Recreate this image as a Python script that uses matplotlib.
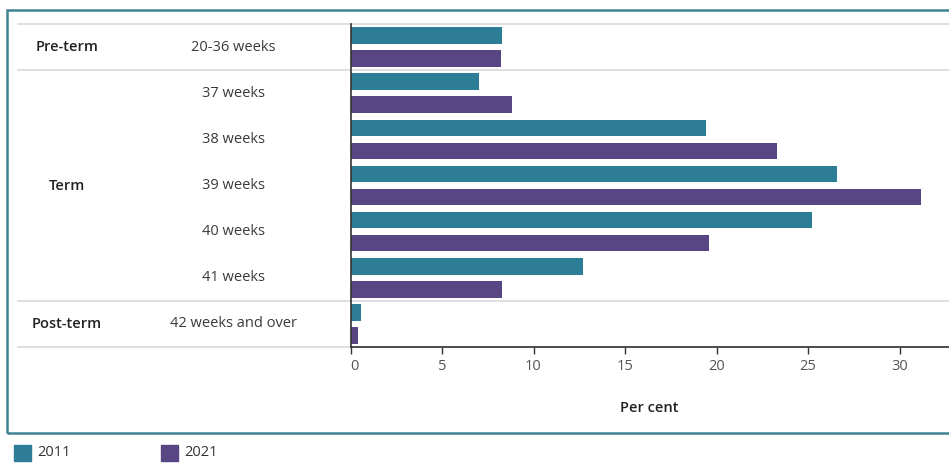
import matplotlib
matplotlib.use("Agg")
import matplotlib.pyplot as plt
import matplotlib.transforms as mtransforms
from matplotlib.lines import Line2D
from matplotlib.patches import Rectangle
import numpy as np

# ---- data ----
categories = ["20-36 weeks", "37 weeks", "38 weeks", "39 weeks", "40 weeks",
              "41 weeks", "42 weeks and over"]
groups = ["Pre-term", "Term", "Post-term"]
group_rows = [[0], [1, 2, 3, 4, 5], [6]]
values_2011 = [8.3, 7.0, 19.4, 26.6, 25.2, 12.7, 0.6]
values_2021 = [8.2, 8.8, 23.3, 31.2, 19.6, 8.3, 0.4]
series_labels = ["2011", "2021"]
xticks = [0, 5, 10, 15, 20, 25, 30]
xlabel = "Per cent"

# ---- style ----
teal = "#2E7D96"
purple = "#574683"
border = "#3F8294"
sep = "#D9D9D9"
axis_col = "#333333"
plt.rcParams["font.family"] = ["Open Sans", "DejaVu Sans"]
FS = 10.5

W, H = 949, 463
fig = plt.figure(figsize=(W / 100, H / 100), dpi=100)
ax_left, ax_right, ax_top, ax_bottom = 350.5, W, 24, 347
ax = fig.add_axes([ax_left / W, 1 - ax_bottom / H, (ax_right - ax_left) / W,
                   (ax_bottom - ax_top) / H])
ax.set_zorder(2)

y = np.arange(len(categories))
ax.barh(y - 0.25, values_2011, height=0.36, color=teal, zorder=3)
ax.barh(y + 0.25, values_2021, height=0.36, color=purple, zorder=3)
ax.set_ylim(len(categories) - 0.5, -0.5)
ax.set_xlim(0, (ax_right - ax_left) / 18.3)
ax.set_yticks([])
ax.set_xticks(xticks)
ax.set_xticklabels([str(t) for t in xticks])
ax.tick_params(axis="x", length=5, width=1, color=axis_col, labelcolor="#555555",
               labelsize=FS, pad=4)
ax.get_xticklabels()[0].set_horizontalalignment("left")
for s in ["top", "right"]:
    ax.spines[s].set_visible(False)
for s in ["left", "bottom"]:
    ax.spines[s].set_color(axis_col)
    ax.spines[s].set_linewidth(1.2)
    ax.spines[s].set_zorder(5)
ax.set_facecolor("none")

# separators (figure x, data y)
blend = mtransforms.blended_transform_factory(fig.transFigure, ax.transData)
bounds = [-0.5]
for rows in group_rows:
    bounds.append(rows[-1] + 0.5)
for b in bounds:
    fig.add_artist(Line2D([18 / W, 1.0], [b, b], transform=blend, color=sep,
                          lw=1.2, zorder=1))

# labels
for i, c in enumerate(categories):
    fig.text(233 / W, i, c, transform=blend, ha="center", va="center",
             fontsize=FS, color="#3a3a3a")
for g, rows in zip(groups, group_rows):
    fig.text(67 / W, np.mean(rows), g, transform=blend, ha="center", va="center",
             fontsize=FS, color="#222222", fontweight="semibold")

fig.text(649 / W, 1 - 408 / H, xlabel,
         ha="center", va="center", fontsize=FS, color="#222222",
         fontweight="semibold")

# border box
fig.add_artist(Rectangle((7 / W, 1 - 433 / H), 1.0, (433 - 10) / H,
                         transform=fig.transFigure, fill=False, ec=border,
                         lw=1.8, zorder=0))

# legend
for k, (lab, col) in enumerate(zip(series_labels, [teal, purple])):
    x0 = 14 + k * 147
    fig.add_artist(Rectangle((x0 / W, 1 - 461 / H), 17 / W, 16 / H,
                             transform=fig.transFigure, color=col))
    fig.text((x0 + 23) / W, 1 - 453 / H, lab, ha="left", va="center",
             fontsize=FS, color="#333333")

fig.savefig("out.png", dpi=100)
